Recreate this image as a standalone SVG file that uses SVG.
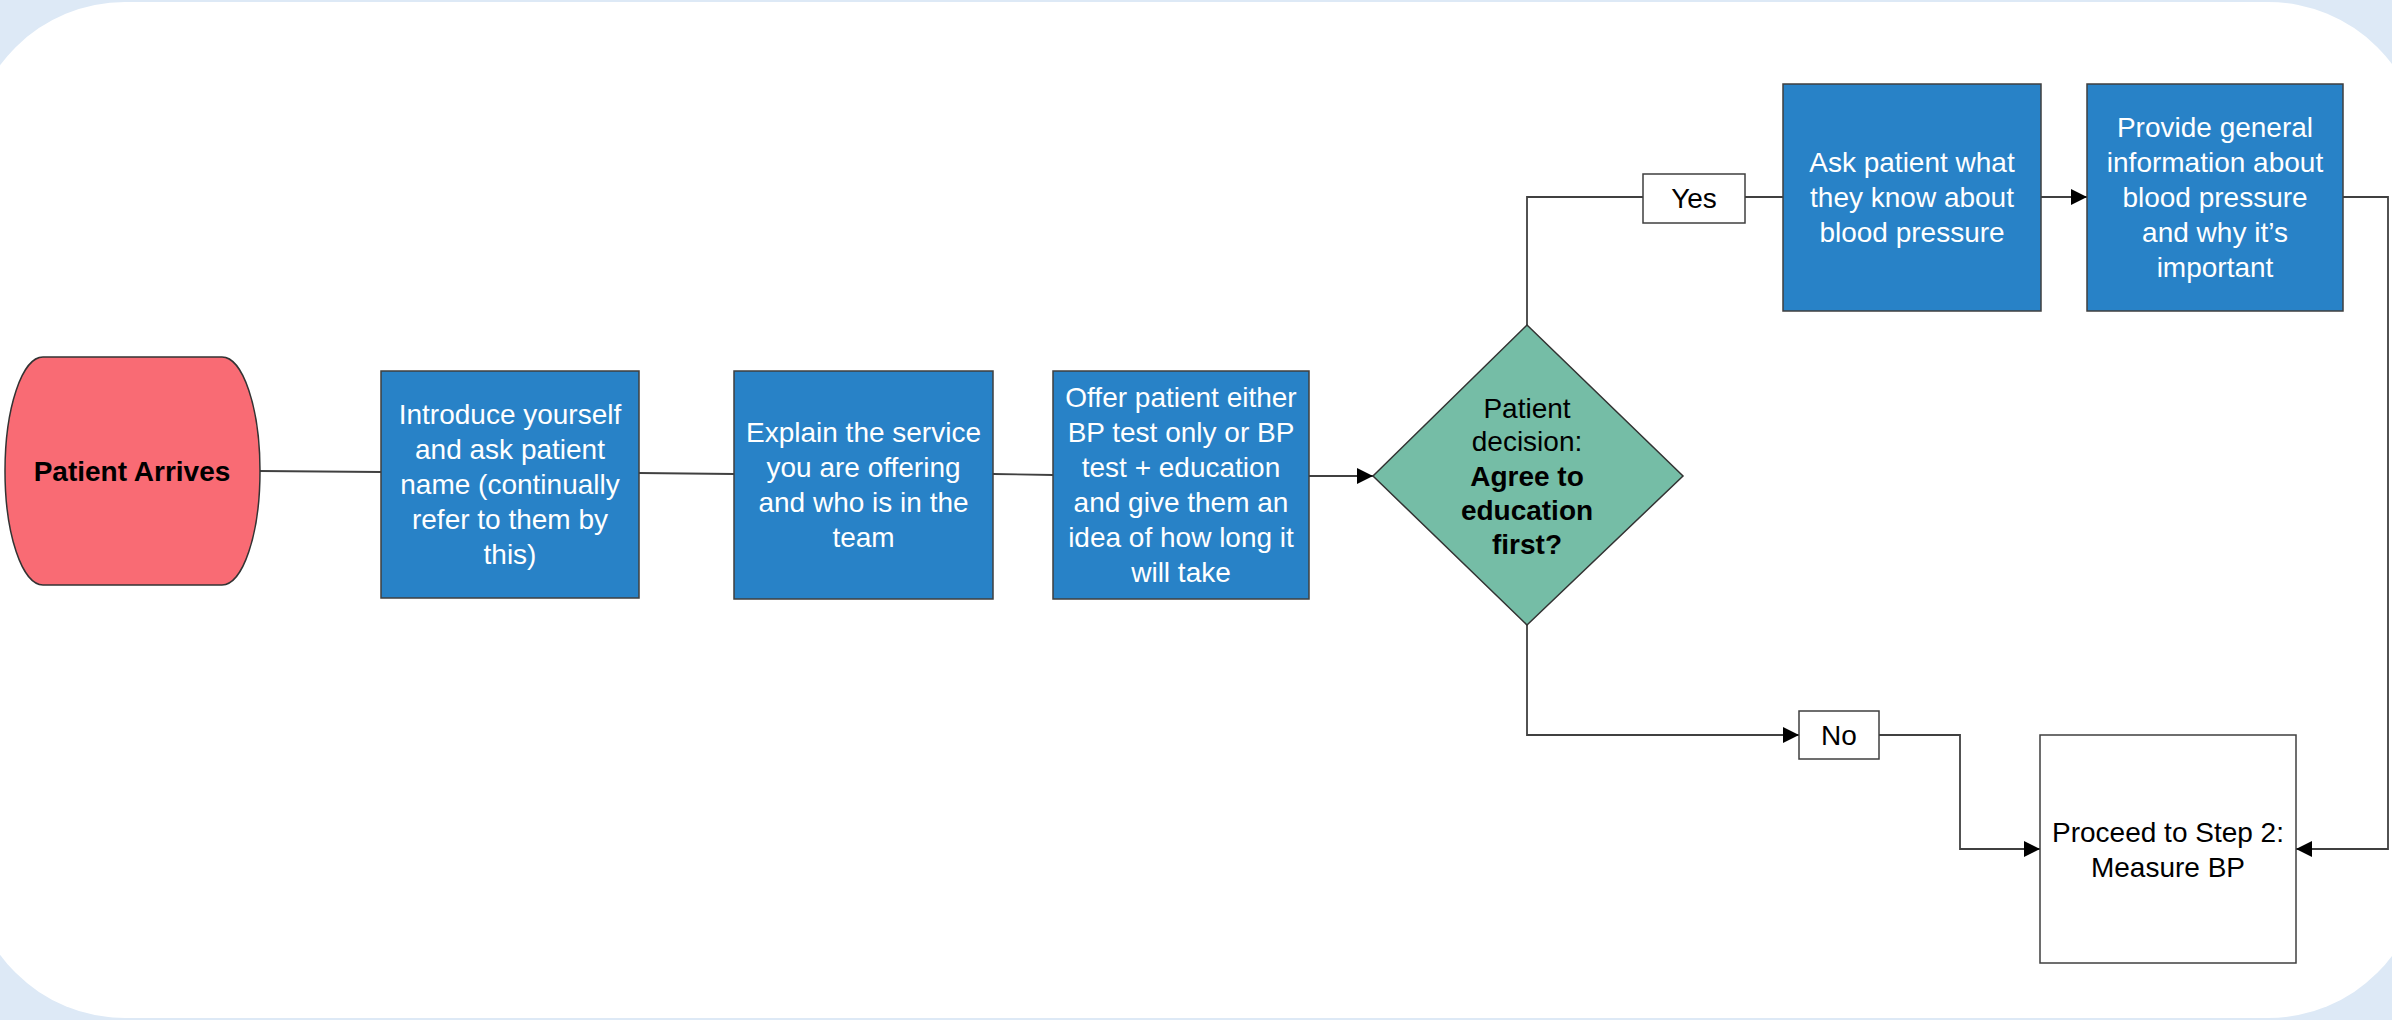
<svg xmlns="http://www.w3.org/2000/svg" width="2392" height="1020" viewBox="0 0 2392 1020">
<defs>
<style>
.t{font-family:"Liberation Sans",Arial,sans-serif;font-size:28px;text-anchor:middle}
.w{fill:#ffffff}
.k{fill:#000000}
.b{font-weight:bold}
.box{fill:#2882c7;stroke:#3f3f3f;stroke-width:1.5}
.wbox{fill:#ffffff;stroke:#3f3f3f;stroke-width:1.5}
.c{fill:none;stroke:#404040;stroke-width:1.8}
</style>
<marker id="ah" markerUnits="userSpaceOnUse" markerWidth="16" markerHeight="16" viewBox="0 0 16 16" refX="16" refY="8" orient="auto">
<path d="M0,0 L16,8 L0,16 z" fill="#000"/>
</marker>
</defs>
<rect x="0" y="0" width="2392" height="1020" fill="#dde9f6"/>
<rect x="-30" y="2" width="2453" height="1016" rx="155" ry="155" fill="#ffffff"/>

<g id="connectors">
<line class="c" x1="260" y1="471" x2="381" y2="472" stroke="#7a7a7a"/>
<line class="c" x1="639" y1="473" x2="734" y2="474"/>
<line class="c" x1="993" y1="474" x2="1053" y2="475"/>
<line class="c" x1="1309" y1="476" x2="1373" y2="476" marker-end="url(#ah)"/>
<polyline class="c" points="1527,325 1527,197 1643,197"/>
<line class="c" x1="1745" y1="197" x2="1783" y2="197"/>
<line class="c" x1="2041" y1="197" x2="2087" y2="197" marker-end="url(#ah)"/>
<polyline class="c" points="2343,197 2388,197 2388,849 2296,849" marker-end="url(#ah)"/>
<polyline class="c" points="1527,625 1527,735 1799,735" marker-end="url(#ah)"/>
<polyline class="c" points="1879,735 1960,735 1960,849 2040,849" marker-end="url(#ah)"/>
</g>

<g id="patient-arrives">
<path d="M43,357 L222,357 A38,114 0 0 1 222,585 L43,585 A38,114 0 0 1 43,357 Z" fill="#f96b74" stroke="#333" stroke-width="1.5"/>
<text class="t k b" x="132" y="481">Patient Arrives</text>
</g>

<g id="introduce">
<rect class="box" x="381" y="371" width="258" height="227"/>
<text class="t w" x="510" y="424">Introduce yourself</text>
<text class="t w" x="510" y="459">and ask patient</text>
<text class="t w" x="510" y="494">name (continually</text>
<text class="t w" x="510" y="529">refer to them by</text>
<text class="t w" x="510" y="564">this)</text>
</g>

<g id="explain">
<rect class="box" x="734" y="371" width="259" height="228"/>
<text class="t w" x="863.5" y="442">Explain the service</text>
<text class="t w" x="863.5" y="477">you are offering</text>
<text class="t w" x="863.5" y="512">and who is in the</text>
<text class="t w" x="863.5" y="547">team</text>
</g>

<g id="offer">
<rect class="box" x="1053" y="371" width="256" height="228"/>
<text class="t w" x="1181" y="407">Offer patient either</text>
<text class="t w" x="1181" y="442">BP test only or BP</text>
<text class="t w" x="1181" y="477">test + education</text>
<text class="t w" x="1181" y="512">and give them an</text>
<text class="t w" x="1181" y="547">idea of how long it</text>
<text class="t w" x="1181" y="582">will take</text>
</g>

<g id="decision">
<polygon points="1527,325 1683,476 1527,625 1373,476" fill="#75bda6" stroke="#333" stroke-width="1.5"/>
<text class="t k" x="1527" y="418">Patient</text>
<text class="t k" x="1527" y="451">decision:</text>
<text class="t k b" x="1527" y="486">Agree to</text>
<text class="t k b" x="1527" y="520">education</text>
<text class="t k b" x="1527" y="554">first?</text>
</g>

<g id="yes-label">
<rect class="wbox" x="1643" y="174" width="102" height="49"/>
<text class="t k" x="1694" y="208">Yes</text>
</g>

<g id="ask">
<rect class="box" x="1783" y="84" width="258" height="227"/>
<text class="t w" x="1912" y="172">Ask patient what</text>
<text class="t w" x="1912" y="207">they know about</text>
<text class="t w" x="1912" y="242">blood pressure</text>
</g>

<g id="provide">
<rect class="box" x="2087" y="84" width="256" height="227"/>
<text class="t w" x="2215" y="137">Provide general</text>
<text class="t w" x="2215" y="172">information about</text>
<text class="t w" x="2215" y="207">blood pressure</text>
<text class="t w" x="2215" y="242">and why it’s</text>
<text class="t w" x="2215" y="277">important</text>
</g>

<g id="no-label">
<rect class="wbox" x="1799" y="711" width="80" height="48"/>
<text class="t k" x="1839" y="745">No</text>
</g>

<g id="proceed">
<rect class="wbox" x="2040" y="735" width="256" height="228"/>
<text class="t k" x="2168" y="842">Proceed to Step 2:</text>
<text class="t k" x="2168" y="877">Measure BP</text>
</g>
</svg>
